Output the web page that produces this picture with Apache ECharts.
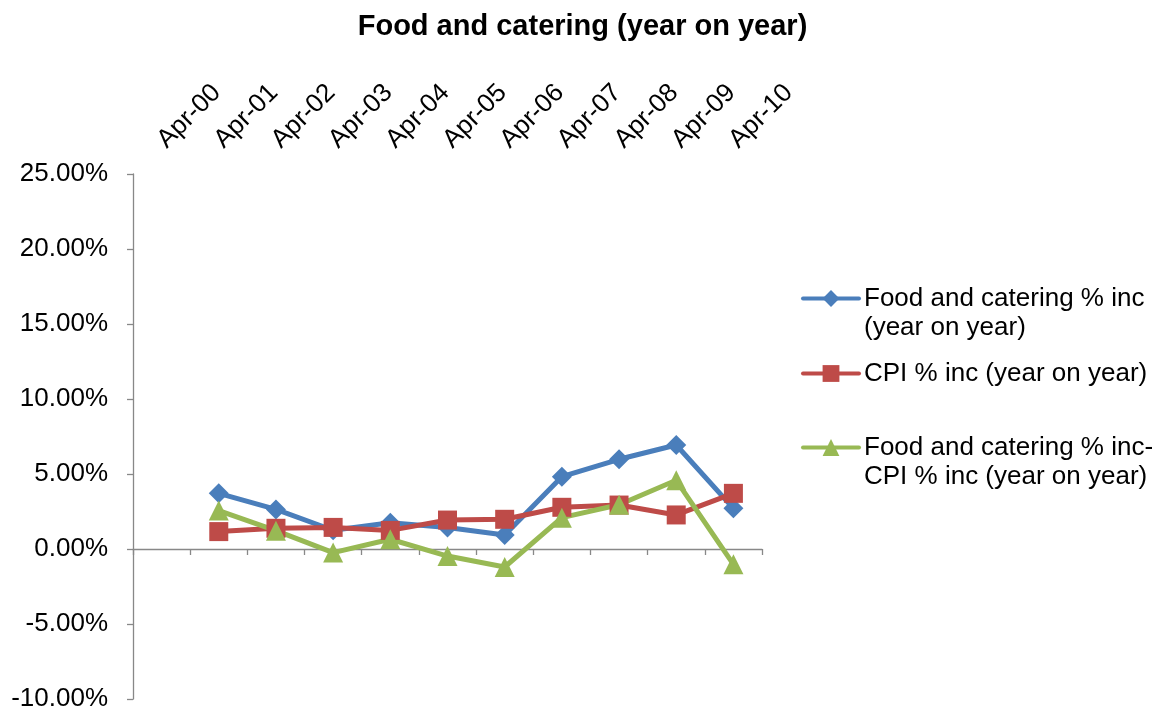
<!DOCTYPE html>
<html>
<head>
<meta charset="utf-8">
<script src="https://cdn.jsdelivr.net/npm/echarts@6/dist/echarts.min.js"></script>
<style>html,body{margin:0;padding:0;background:#fff}#c{width:1165px;height:713px}</style>
</head>
<body>
<div id="c"></div>
<script>
var categories = ['Apr-00','Apr-01','Apr-02','Apr-03','Apr-04','Apr-05','Apr-06','Apr-07','Apr-08','Apr-09','Apr-10'];
var foodInc = [null, 3.71, 2.64, 1.25, 1.75, 1.44, 0.93, 4.82, 5.98, 6.93, 2.71];
var cpiInc = [null, 1.16, 1.38, 1.44, 1.24, 1.93, 1.98, 2.78, 2.93, 2.27, 3.71];
var diffInc = [null, 2.56, 1.22, -0.24, 0.65, -0.47, -1.2, 2.09, 2.95, 4.58, -1.02];
var seriesNames = ['Food and catering % inc\n(year on year)', 'CPI % inc (year on year)', 'Food and catering % inc-\nCPI % inc (year on year)'];
var yTicks = {min: -10, max: 25, interval: 5};

var FONT = 'Liberation Sans, Arial, sans-serif';
var chart = echarts.init(document.getElementById('c'));
function legendFor(i, top, twoLine) {
  return {
    data: [seriesNames[i]], left: 801, top: top, orient: 'vertical', padding: 0,
    itemWidth: 56, itemHeight: 21, itemGap: 5, selectedMode: false,
    lineStyle: {width: 4, cap: 'round'},
    formatter: function (n) { return twoLine ? ' \n' + n : n; },
    textStyle: {fontFamily: FONT, fontSize: 26, color: '#000', lineHeight: 29}
  };
}
chart.setOption({
  animation: false,
  backgroundColor: '#fff',
  title: {text: 'Food and catering (year on year)', left: 'center', top: 7,
    textStyle: {fontFamily: FONT, fontSize: 29, fontWeight: 'bold', color: '#000'}},
  legend: [legendFor(0, 255, true), legendFor(1, 359, false), legendFor(2, 404, true)],
  grid: {left: 133, right: 403, top: 174, bottom: 14, containLabel: false},
  xAxis: [
    {type: 'category', data: categories, position: 'top', boundaryGap: true,
      axisLine: {show: false, onZero: false}, axisTick: {show: false}, splitLine: {show: false},
      axisLabel: {rotate: -45, margin: 30, interval: 0, fontFamily: FONT, fontSize: 26, color: '#000'}},
    {type: 'category', data: categories, position: 'bottom', boundaryGap: true,
      axisLine: {show: true, onZero: true, lineStyle: {color: '#888', width: 1.3}},
      axisTick: {show: true, length: 6, interval: 0, lineStyle: {color: '#888', width: 1.3}},
      axisLabel: {show: false}, splitLine: {show: false}}
  ],
  yAxis: {type: 'value', min: yTicks.min, max: yTicks.max, interval: yTicks.interval,
    axisLine: {show: true, onZero: false, lineStyle: {color: '#888', width: 1.3}},
    axisTick: {show: true, length: 6, lineStyle: {color: '#888', width: 1.3}},
    splitLine: {show: false},
    axisLabel: {margin: 25, fontFamily: FONT, fontSize: 26, color: '#000',
      formatter: function (v) { return v.toFixed(2) + '%'; }}},
  series: [
    {name: seriesNames[0], type: 'line', xAxisIndex: 0, data: foodInc, symbol: 'diamond', symbolSize: 20,
      itemStyle: {color: '#4a7ebb'}, lineStyle: {color: '#4a7ebb', width: 5}},
    {name: seriesNames[1], type: 'line', xAxisIndex: 0, data: cpiInc, symbol: 'rect', symbolSize: 19,
      itemStyle: {color: '#be4b48'}, lineStyle: {color: '#be4b48', width: 5}},
    {name: seriesNames[2], type: 'line', xAxisIndex: 0, data: diffInc, symbol: 'triangle', symbolSize: 20,
      itemStyle: {color: '#98b954'}, lineStyle: {color: '#98b954', width: 5}}
  ]
});
</script>
</body>
</html>
